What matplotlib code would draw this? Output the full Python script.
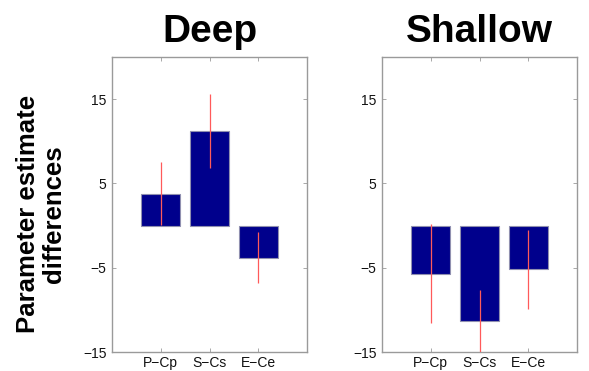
import matplotlib
matplotlib.use("Agg")
import matplotlib.pyplot as plt
import numpy as np

plt.rcParams['font.family'] = ['Liberation Sans', 'DejaVu Sans']

categories = ["P\u2212Cp", "S\u2212Cs", "E\u2212Ce"]
deep_values = [3.8, 11.2, -3.8]
deep_errors = [3.7, 4.4, 3.0]
shallow_values = [-5.7, -11.3, -5.2]
shallow_errors = [5.9, 3.7, 4.7]
titles = ["Deep", "Shallow"]
yticks = [15, 5, -5, -15]

W, H = 589, 371
fig = plt.figure(figsize=(W / 100, H / 100), dpi=100)

ax_left_px = [112, 382]
ax_w_px = 195
ax_top_px, ax_bot_px = 57, 352

bar_color = '#00008C'
spine_color = '#9a9a9a'

for i, (vals, errs, title) in enumerate([(deep_values, deep_errors, titles[0]),
                                         (shallow_values, shallow_errors, titles[1])]):
    ax = fig.add_axes([ax_left_px[i] / W, 1 - ax_bot_px / H,
                       ax_w_px / W, (ax_bot_px - ax_top_px) / H])
    x = np.arange(1, len(categories) + 1)
    ax.bar(x, vals, width=0.8, color=bar_color, edgecolor='#9090b0', linewidth=0.8, zorder=2)
    ax.errorbar(x, vals, yerr=errs, fmt='none', ecolor='#ff5a5a', elinewidth=0.9,
                capsize=0, zorder=3)
    ax.set_xlim(0, 4)
    ax.set_ylim(-15, 20)
    ax.set_xticks(x)
    ax.set_xticklabels(categories)
    ax.set_yticks(yticks)
    ax.set_yticklabels([str(t).replace('-', '\u2212') for t in yticks])
    ax.tick_params(direction='in', length=3, width=0.6, color=spine_color,
                   top=True, right=True, labelsize=10, labelcolor='#111111', pad=4)
    ax.tick_params(axis='x', pad=3)
    for s in ax.spines.values():
        s.set_color(spine_color)
        s.set_linewidth(1.0)
    ax.set_title(title, fontsize=28, fontweight='bold', pad=11)

fig.text(41 / W, 1 - 214 / H, "Parameter estimate\ndifferences", rotation=90,
         ha='center', va='center', fontsize=18.5, fontweight='bold',
         linespacing=1.1, multialignment='center')

fig.savefig("out.png", dpi=100)
